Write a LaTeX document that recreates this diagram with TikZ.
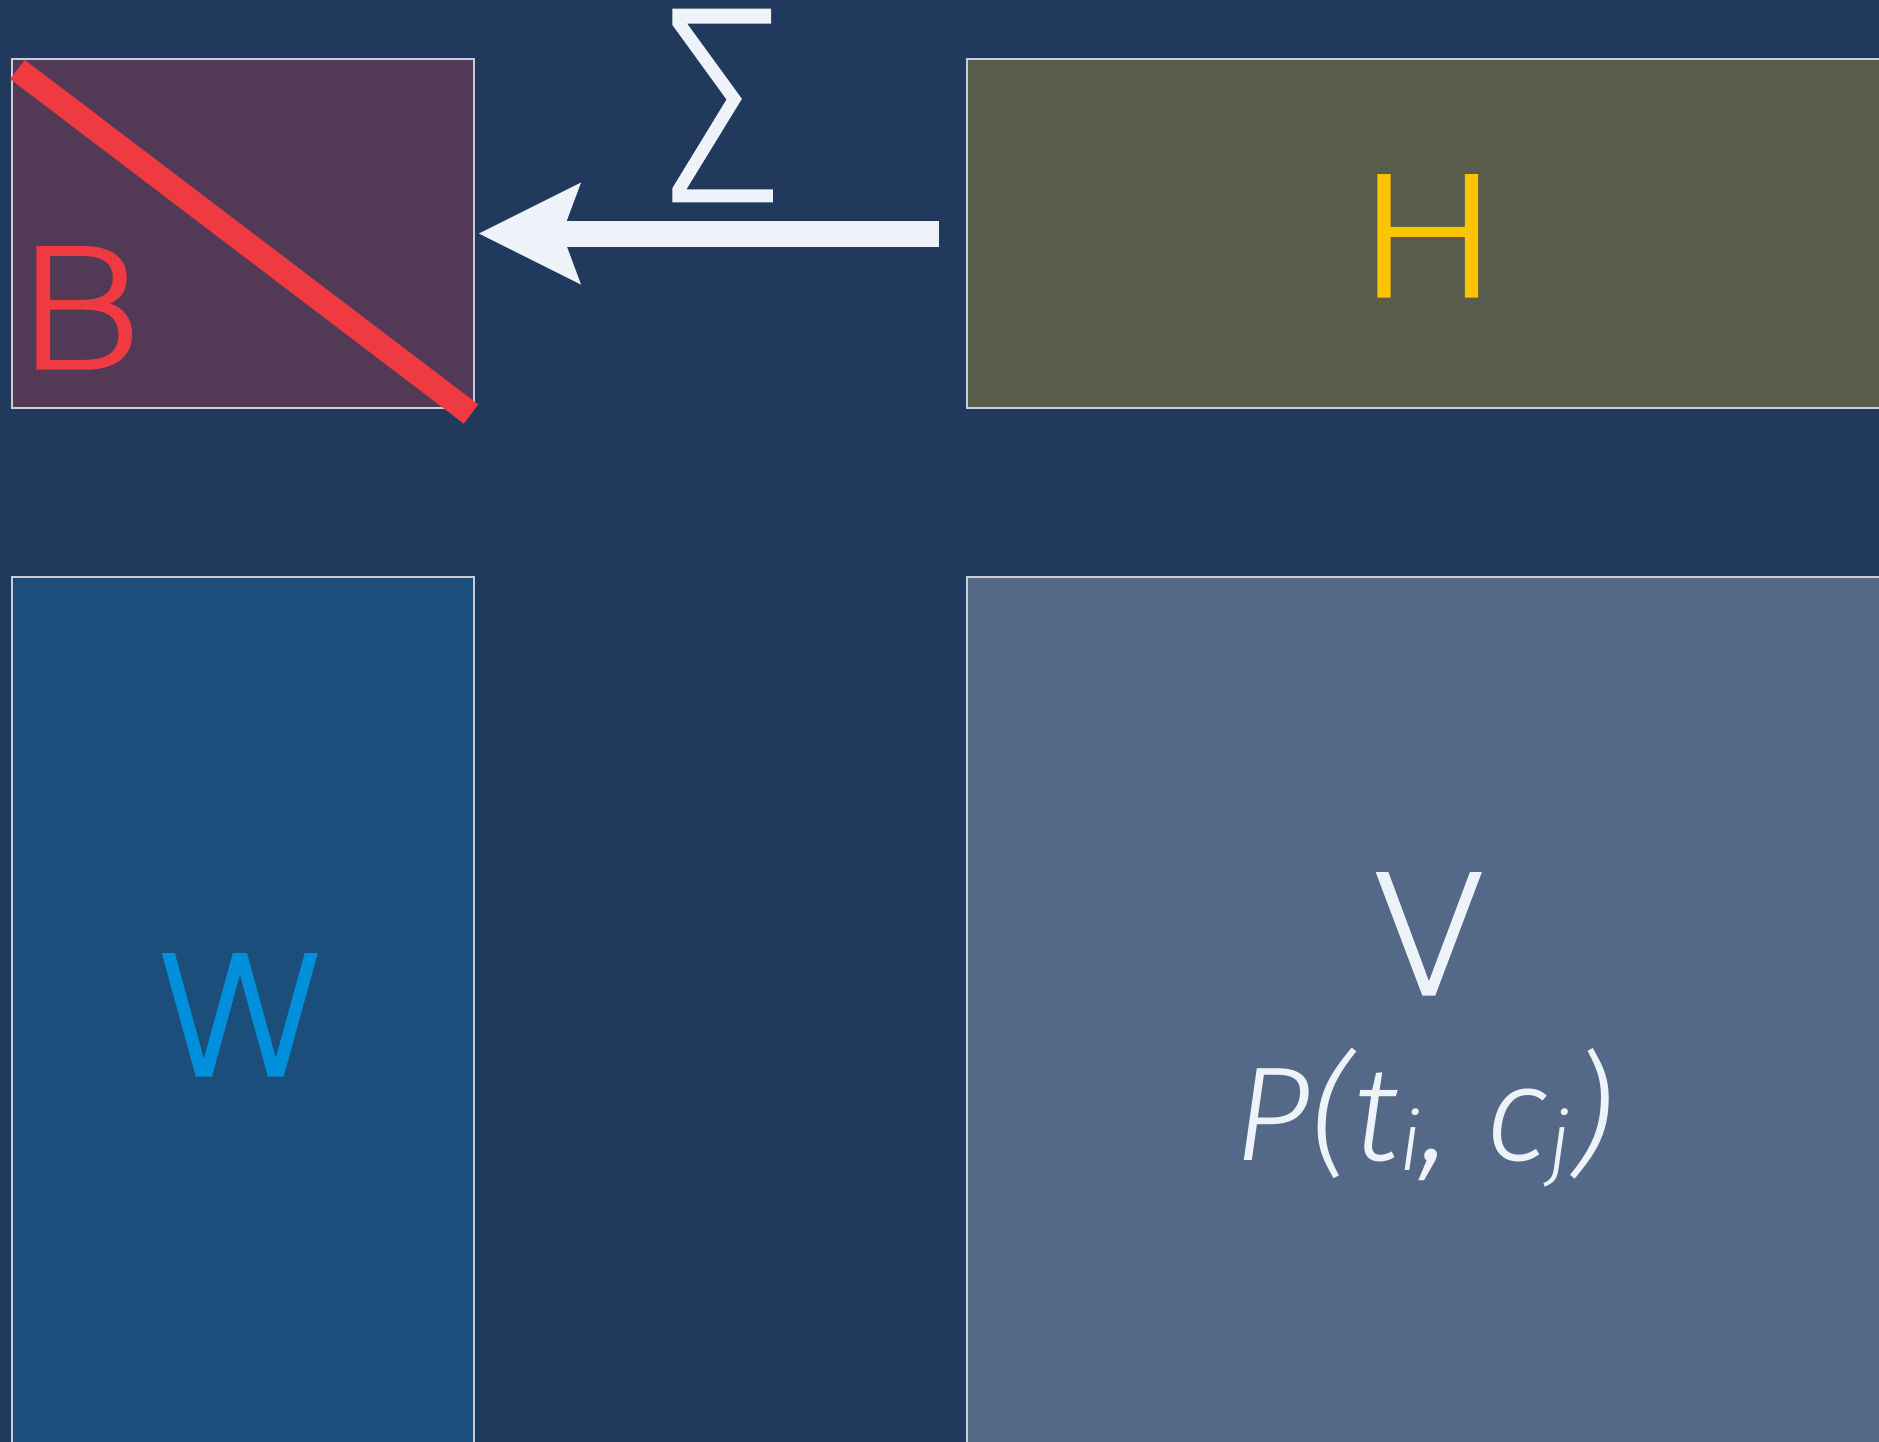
\documentclass[tikz,border=0pt]{standalone}
\usepackage{fontspec}
\setmainfont{Fira Sans}[UprightFont=* Light, ItalicFont=* Light Italic]
\newfontfamily\thinfont{DejaVu Sans ExtraLight}[RawFeature={embolden=2}]
\newfontfamily\sigmafont{DejaVu Sans ExtraLight}[RawFeature={embolden=1}]
\usetikzlibrary{arrows.meta}
\definecolor{bgc}{RGB}{34,57,94}
\definecolor{edgec}{RGB}{200,205,215}
\definecolor{bfill}{RGB}{82,57,86}
\definecolor{hfill}{RGB}{89,92,76}
\definecolor{wfill}{RGB}{28,78,124}
\definecolor{vfill}{RGB}{84,104,135}
\definecolor{redc}{RGB}{238,58,64}
\definecolor{yelc}{RGB}{250,196,0}
\definecolor{bluec}{RGB}{0,143,218}
\definecolor{whitec}{RGB}{238,243,250}
\begin{document}
\begin{tikzpicture}[x=1pt,y=-1pt,
  box/.style={draw=edgec, line width=1.5pt, inner sep=0pt, outer sep=0pt, anchor=north west},
  lbl/.style={inner sep=0pt, outer sep=0pt, font=\thinfont\fontsize{165}{165}\selectfont},
  sumarrow/.style={draw=whitec, line width=26pt,
    -{Stealth[length=102pt, width=102pt, inset=19pt, line width=0pt]}},
  strike/.style={draw=redc, line width=24pt}]
\useasboundingbox (0,0) rectangle (1879,1441);
\fill[bgc] (-10,-10) rectangle (1889,1451);
% boxes
\node[box, fill=bfill, minimum width=462pt, minimum height=349pt] (B) at (12,59) {};
\node[box, fill=hfill, minimum width=922pt, minimum height=349pt] (H) at (967,59) {};
\node[box, fill=wfill, minimum width=462pt, minimum height=874pt] (W) at (12,577) {};
\node[box, fill=vfill, minimum width=922pt, minimum height=874pt] (V) at (967,577) {};
% labels
\node[lbl, text=redc, anchor=base west] (Bt) at (14,368) {\scalebox{1.2}[1]{B}};
\node[lbl, text=yelc, anchor=base] (Ht) at (1428,296) {\scalebox{1.16}[1]{H}};
\node[lbl, text=bluec, anchor=base] (Wt) at (242,1075) {\scalebox{1.11}[1]{W}};
\node[lbl, text=whitec, anchor=base] (Vt) at (1429,994) {\scalebox{0.99}[1]{V}};
\node[inner sep=0pt, text=whitec, anchor=base, font=\fontsize{134}{134}\selectfont\itshape] (Pt) at (1424,1160)
  {P(t\raisebox{-10pt}{\fontsize{82}{82}\selectfont i}, c\raisebox{-10pt}{\fontsize{82}{82}\selectfont j})};
% strike through B
\draw[strike] ([shift={(5.5,10.5)}]B.north west) -- ([shift={(-3,6)}]B.south east);
% sum arrow
\draw[sumarrow] ([xshift=-28pt]H.west) -- ([xshift=5pt]B.east);
\node[inner sep=0pt, text=whitec, anchor=base, font=\sigmafont\fontsize{262}{262}\selectfont] (S) at (719,201) {\scalebox{0.8}[1]{Σ}};
\end{tikzpicture}
\end{document}
